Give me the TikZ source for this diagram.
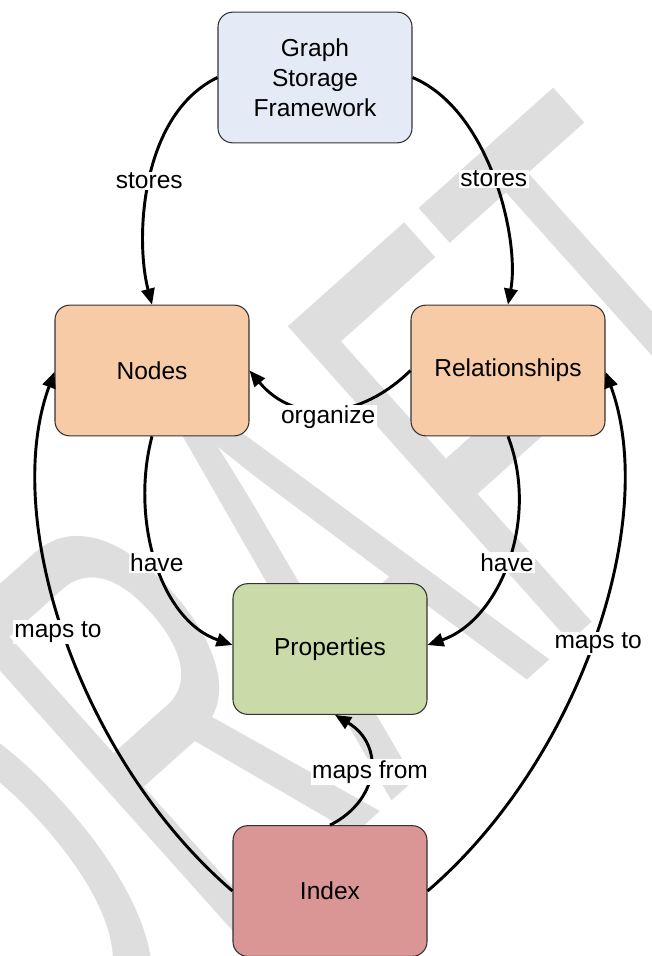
\documentclass[tikz,border=0pt]{standalone}
\usepackage{fontspec}
\setmainfont{Liberation Sans}
\usepackage{graphicx}
\usetikzlibrary{arrows.meta}
\definecolor{gsfblue}{HTML}{E4EBF7}
\definecolor{peach}{HTML}{F8CBA7}
\definecolor{propgreen}{HTML}{CBDAA9}
\definecolor{idxred}{HTML}{D99694}
\definecolor{wmgray}{HTML}{DEDEDE}
\definecolor{boxline}{HTML}{333333}
\begin{document}
\begin{tikzpicture}[x=0.75pt,y=-0.75pt,
  box/.style={draw=boxline, line width=0.8pt, rounded corners=11pt, minimum width=145.5pt, minimum height=98pt, align=center, inner sep=0pt, font=\fontsize{18.4pt}{22.5pt}\selectfont},
  conn/.style={line width=2.2pt, -{Triangle[length=12pt,width=10pt]}},
  lbl/.style={fill=white, inner sep=1pt, font=\fontsize{18.4pt}{22pt}\selectfont}]
\useasboundingbox (0,0) rectangle (651,956);
\clip (0,0) rectangle (651,956);
% watermark
\node[rotate=41.8, anchor=base west, inner sep=0pt, text=wmgray, font=\fontsize{461pt}{461pt}\selectfont] (wm) at (47,1109) {\scalebox{0.52}[1]{DRAFT}};
% boxes
\node[box, fill=gsfblue] (gsf) at (315,77.5) {Graph\\Storage\\Framework};
\node[box, fill=peach] (nodes) at (152,370.5) {Nodes};
\node[box, fill=peach] (rel) at (508,370.5) {Relationships};
\node[box, fill=propgreen] (props) at (330,649) {Properties};
\node[box, fill=idxred] (index) at (330,891) {Index};
% connectors
\draw[conn] (gsf.west) .. controls (140,115) and (135,240) .. (nodes.north) node[lbl, pos=0.5] {stores};
\draw[conn] (gsf.east) .. controls (490,110) and (520,240) .. (rel.north) node[lbl, pos=0.5] {stores};
\draw[conn] (rel.west) .. controls (360,420) and (295,425) .. (nodes.east) node[lbl, pos=0.5, yshift=-6pt] {organize};
\draw[conn] (nodes.south) .. controls (130,520) and (160,620) .. ([yshift=3pt]props.west) node[lbl, pos=0.5] {have};
\draw[conn] (rel.south) .. controls (540,520) and (500,620) .. ([yshift=3pt]props.east) node[lbl, pos=0.5] {have};
\draw[conn] (index.west) .. controls (80,760) and (0,520) .. ([yshift=-1pt]nodes.west) node[lbl, pos=0.51, xshift=-4.5pt] {maps to};
\draw[conn] (index.east) .. controls (580,760) and (660,520) .. ([yshift=-1pt]rel.east) node[lbl, pos=0.49, xshift=4.5pt] {maps to};
\draw[conn] (index.north) .. controls (380,800) and (385,745) .. ([xshift=3.75pt]props.south) node[lbl, pos=0.5] {maps from};
\end{tikzpicture}
\end{document}
